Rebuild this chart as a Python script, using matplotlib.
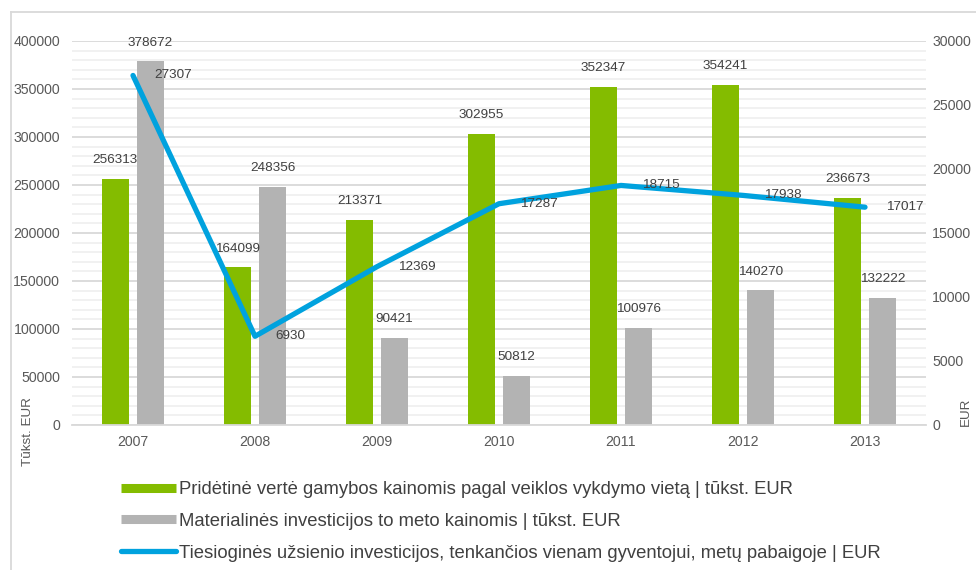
import numpy as np
import matplotlib.pyplot as plt
from matplotlib.lines import Line2D
from matplotlib.ticker import MultipleLocator

# --- DATA ---
years = ["2007", "2008", "2009", "2010", "2011", "2012", "2013"]
value_added = [256313, 164099, 213371, 302955, 352347, 354241, 236673]
tangible_inv = [378672, 248356, 90421, 50812, 100976, 140270, 132222]
fdi_per_capita = [27307, 6930, 12369, 17287, 18715, 17938, 17017]

labels = [
    "Pridėtinė vertė gamybos kainomis pagal veiklos vykdymo vietą | tūkst. EUR",
    "Materialinės investicijos to meto kainomis | tūkst. EUR",
    "Tiesioginės užsienio investicijos, tenkančios vienam gyventojui, metų pabaigoje | EUR",
]

# --- STYLE ---
plt.rcParams['font.family'] = ['Liberation Sans', 'DejaVu Sans']
green = "#84BC00"
grey = "#B3B3B3"
blue = "#00A2DE"
txt = "#404040"
tick_col = "#595959"

W, H = 976, 570
fig = plt.figure(figsize=(W / 100, H / 100), dpi=100)
ax = fig.add_axes([72 / W, 1 - 425 / H, (926 - 72) / W, 384 / H])

x = np.arange(len(years))
bw, off = 0.222, 0.144
ax.bar(x - off, value_added, bw, color=green, zorder=2)
ax.bar(x + off, tangible_inv, bw, color=grey, zorder=2)

ax.set_xlim(-0.5, len(years) - 0.5)
ax.set_ylim(0, 400000)
ax.yaxis.set_major_locator(MultipleLocator(50000))
ax.yaxis.set_minor_locator(MultipleLocator(10000))
ax.grid(which="major", axis="y", color="#d9d9d9", lw=1.3)
ax.grid(which="minor", axis="y", color="#eeeeee", lw=1.1)
ax.set_axisbelow(True)
for s in ["top", "left", "right"]:
    ax.spines[s].set_visible(False)
ax.spines["bottom"].set_color("#d9d9d9")
ax.spines["bottom"].set_linewidth(1.3)
ax.set_xticks(x)
ax.set_xticklabels(years)
ax.tick_params(axis="both", which="both", length=0, labelsize=10.2, labelcolor=tick_col)
ax.tick_params(axis="y", pad=8.5)
ax.tick_params(axis="x", pad=7)

for xi, v in zip(x, value_added):
    ax.annotate(str(v), (xi - off, v), xytext=(0, 13.5), textcoords="offset points",
                ha="center", va="center", fontsize=9.7, color=txt)
for xi, v in zip(x, tangible_inv):
    ax.annotate(str(v), (xi + off, v), xytext=(0, 13.5), textcoords="offset points",
                ha="center", va="center", fontsize=9.7, color=txt)

ax2 = ax.twinx()
ax2.plot(x, fdi_per_capita, color=blue, lw=3.8, solid_capstyle="round", zorder=3)
ax2.set_ylim(0, 30000)
ax2.yaxis.set_major_locator(MultipleLocator(5000))
for s in ["top", "left", "right", "bottom"]:
    ax2.spines[s].set_visible(False)
ax2.tick_params(axis="y", length=0, labelsize=10.2, labelcolor=tick_col, pad=4.5)
for xi, v in zip(x, fdi_per_capita):
    ax2.annotate(str(v), (xi, v), xytext=(15, 0), textcoords="offset points",
                 ha="left", va="center", fontsize=9.7, color=txt)

fig.text(28 / W, 1 - 432 / H, "Tūkst. EUR", rotation=90, ha="center", va="center",
         fontsize=9.7, color=tick_col)
fig.text(966 / W, 1 - 412 / H, "EUR", rotation=90, ha="center", va="center",
         fontsize=9.7, color=tick_col)

# outer frame (top and left edges visible)
fig.add_artist(Line2D([11 / W, 1], [1 - 12 / H, 1 - 12 / H], transform=fig.transFigure,
                      color="#d9d9d9", lw=1.3))
fig.add_artist(Line2D([11 / W, 11 / W], [0, 1 - 12 / H], transform=fig.transFigure,
                      color="#d9d9d9", lw=1.3))

handles = [
    Line2D([], [], color=green, lw=6.5, solid_capstyle="butt"),
    Line2D([], [], color=grey, lw=6.5, solid_capstyle="butt"),
    Line2D([], [], color=blue, lw=3.8, solid_capstyle="round"),
]
leg = fig.legend(handles, labels, loc="upper left", bbox_to_anchor=(121 / W, 1 - 481 / H),
                 frameon=False, fontsize=13.3, handlelength=3.0, handletextpad=0.15,
                 labelspacing=0.80, borderpad=0, borderaxespad=0)
for t in leg.get_texts():
    t.set_color(txt)

fig.savefig("out.png", dpi=100)
